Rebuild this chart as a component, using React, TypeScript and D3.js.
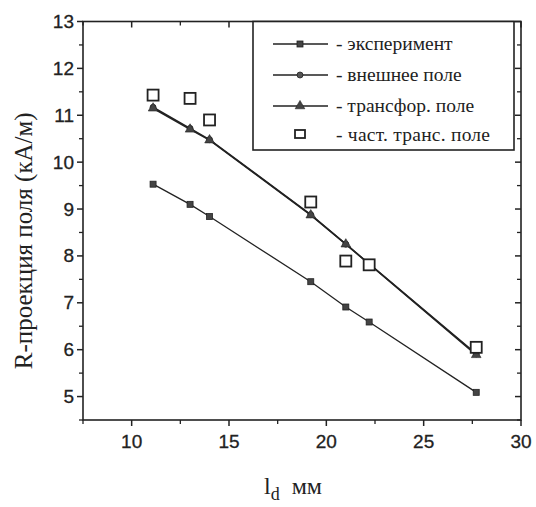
import React from 'react';
import * as d3 from 'd3';

// distance l_d, mm
const xExp = [11.1, 13.0, 14.0, 19.2, 21.0, 22.2, 27.7];
const experiment = [9.53, 9.10, 8.84, 7.45, 6.91, 6.59, 5.09];

const xCalc = [11.1, 13.0, 14.0, 19.2, 21.0, 27.7];
const outerField = [11.17, 10.72, 10.48, 8.88, 8.25, 5.91];
const transField = [11.15, 10.70, 10.47, 8.87, 8.25, 5.89];

const partTransField = [11.43, 11.36, 10.9, 9.15, 7.89, 7.81, 6.05];

const xTicks = [10, 15, 20, 25, 30];
const xMinor = [7.5, 12.5, 17.5, 22.5, 27.5];
const yTicks = [5, 6, 7, 8, 9, 10, 11, 12, 13];
const yMinor = [4.5, 5.5, 6.5, 7.5, 8.5, 9.5, 10.5, 11.5, 12.5];

const legendLabels = ['- эксперимент', '- внешнее поле', '- трансфор. поле', '- част. транс. поле'];

const W = 536, H = 507;
const m = { left: 83, right: 15, top: 21.5, bottom: 87 };

export default function App() {
  const x = d3.scaleLinear().domain([7.5, 30]).range([m.left, W - m.right]);
  const y = d3.scaleLinear().domain([4.5, 13]).range([H - m.bottom, m.top]);
  const x0 = x.range()[0], x1 = x.range()[1];
  const y0 = y.range()[0], y1 = y.range()[1];

  const line = d3.line<[number, number]>().x(d => x(d[0])).y(d => y(d[1]));
  const ink = '#222';
  const tickFont = '"Liberation Sans", Arial, sans-serif';
  const serif = '"Liberation Serif", "Times New Roman", serif';

  const expPts: [number, number][] = xExp.map((v, i) => [v, experiment[i]]);
  const outPts: [number, number][] = xCalc.map((v, i) => [v, outerField[i]]);
  const trPts: [number, number][] = xCalc.map((v, i) => [v, transField[i]]);
  const partPts: [number, number][] = xExp.map((v, i) => [v, partTransField[i]]);

  const tri = d3.symbol(d3.symbolTriangle, 40)();

  const legY = [44, 75, 106, 135];

  return (
    <svg width={W} height={H} style={{ position: 'absolute', left: 0, top: 0, background: '#fff' }}>
      {/* frame */}
      <rect x={x0} y={y1} width={x1 - x0} height={y0 - y1} fill="none" stroke={ink} strokeWidth={1.6} />

      {/* bottom (outward) and top (inward) ticks */}
      {xTicks.map(t => (
        <g key={'xt' + t}>
          <line x1={x(t)} x2={x(t)} y1={y0} y2={y0 + 6} stroke={ink} strokeWidth={1.5} />
          <line x1={x(t)} x2={x(t)} y1={y1} y2={y1 + 6} stroke={ink} strokeWidth={1.5} />
          <text x={x(t)} y={y0 + 28} textAnchor="middle" fontFamily={tickFont} fontSize={19} fill={ink} stroke={ink} strokeWidth={0.3}>{t}</text>
        </g>
      ))}
      {xMinor.map(t => (
        <g key={'xm' + t}>
          <line x1={x(t)} x2={x(t)} y1={y0} y2={y0 + 4} stroke={ink} strokeWidth={1.3} />
          <line x1={x(t)} x2={x(t)} y1={y1} y2={y1 + 4} stroke={ink} strokeWidth={1.3} />
        </g>
      ))}

      {/* left (outward) and right (inward) ticks */}
      {yTicks.map(t => (
        <g key={'yt' + t}>
          <line x1={x0 - 6} x2={x0} y1={y(t)} y2={y(t)} stroke={ink} strokeWidth={1.5} />
          <line x1={x1 - 6} x2={x1} y1={y(t)} y2={y(t)} stroke={ink} strokeWidth={1.5} />
          <text x={x0 - 9} y={y(t) + 6.5} textAnchor="end" fontFamily={tickFont} fontSize={19} fill={ink} stroke={ink} strokeWidth={0.3}>{t}</text>
        </g>
      ))}
      {yMinor.map(t => (
        <g key={'ym' + t}>
          <line x1={x0 - 4} x2={x0} y1={y(t)} y2={y(t)} stroke={ink} strokeWidth={1.3} />
          <line x1={x1 - 4} x2={x1} y1={y(t)} y2={y(t)} stroke={ink} strokeWidth={1.3} />
        </g>
      ))}

      {/* series */}
      <path d={line(expPts) || ''} fill="none" stroke={ink} strokeWidth={1.3} />
      <path d={line(outPts) || ''} fill="none" stroke={ink} strokeWidth={1.6} />
      <path d={line(trPts) || ''} fill="none" stroke={ink} strokeWidth={1.6} />

      {expPts.map((d, i) => (
        <rect key={'e' + i} x={x(d[0]) - 3} y={y(d[1]) - 3} width={6} height={6} fill="#444" stroke={ink} strokeWidth={0.8} />
      ))}
      {outPts.map((d, i) => (
        <circle key={'o' + i} cx={x(d[0])} cy={y(d[1])} r={3} fill="#555" stroke={ink} strokeWidth={0.8} />
      ))}
      {trPts.map((d, i) => (
        <path key={'t' + i} d={tri || ''} transform={`translate(${x(d[0])},${y(d[1])})`} fill="#444" stroke={ink} strokeWidth={0.6} />
      ))}
      {partPts.map((d, i) => (
        <rect key={'p' + i} x={x(d[0]) - 5.5} y={y(d[1]) - 5.5} width={11} height={11} fill="#fff" stroke={ink} strokeWidth={1.8} />
      ))}

      {/* legend */}
      <rect x={253} y={y1} width={261} height={150 - y1} fill="#fff" stroke={ink} strokeWidth={1.6} />
      {legendLabels.map((lab, i) => (
        <g key={'l' + i}>
          {i < 3 && <line x1={273} x2={328} y1={legY[i]} y2={legY[i]} stroke={ink} strokeWidth={1.3} />}
          {i === 0 && <rect x={297} y={legY[i] - 3} width={6} height={6} fill="#444" stroke={ink} strokeWidth={0.8} />}
          {i === 1 && <circle cx={300} cy={legY[i]} r={3} fill="#555" stroke={ink} strokeWidth={0.8} />}
          {i === 2 && <path d={tri || ''} transform={`translate(300,${legY[i]})`} fill="#444" stroke={ink} strokeWidth={0.6} />}
          {i === 3 && <rect x={295} y={legY[i] - 5} width={10} height={8} fill="#fff" stroke={ink} strokeWidth={1.8} />}
          <text x={336} y={legY[i] + 6} fontFamily={serif} fontSize={19.5} fill={ink} textLength={i === 3 ? 154 : undefined}>{lab}</text>
        </g>
      ))}

      {/* axis titles */}
      <text transform={`translate(32,${(y0 + y1) / 2 + 20}) rotate(-90)`} textAnchor="middle" fontFamily={serif} fontSize={25} fill={ink}>
        R-проекция поля (кА/м)
      </text>
      <text x={264} y={494} fontFamily={serif} fontSize={24} fill={ink}>
        l<tspan dy={6} fontSize={18}>d</tspan><tspan dy={-6} dx={12}>мм</tspan>
      </text>
    </svg>
  );
}
